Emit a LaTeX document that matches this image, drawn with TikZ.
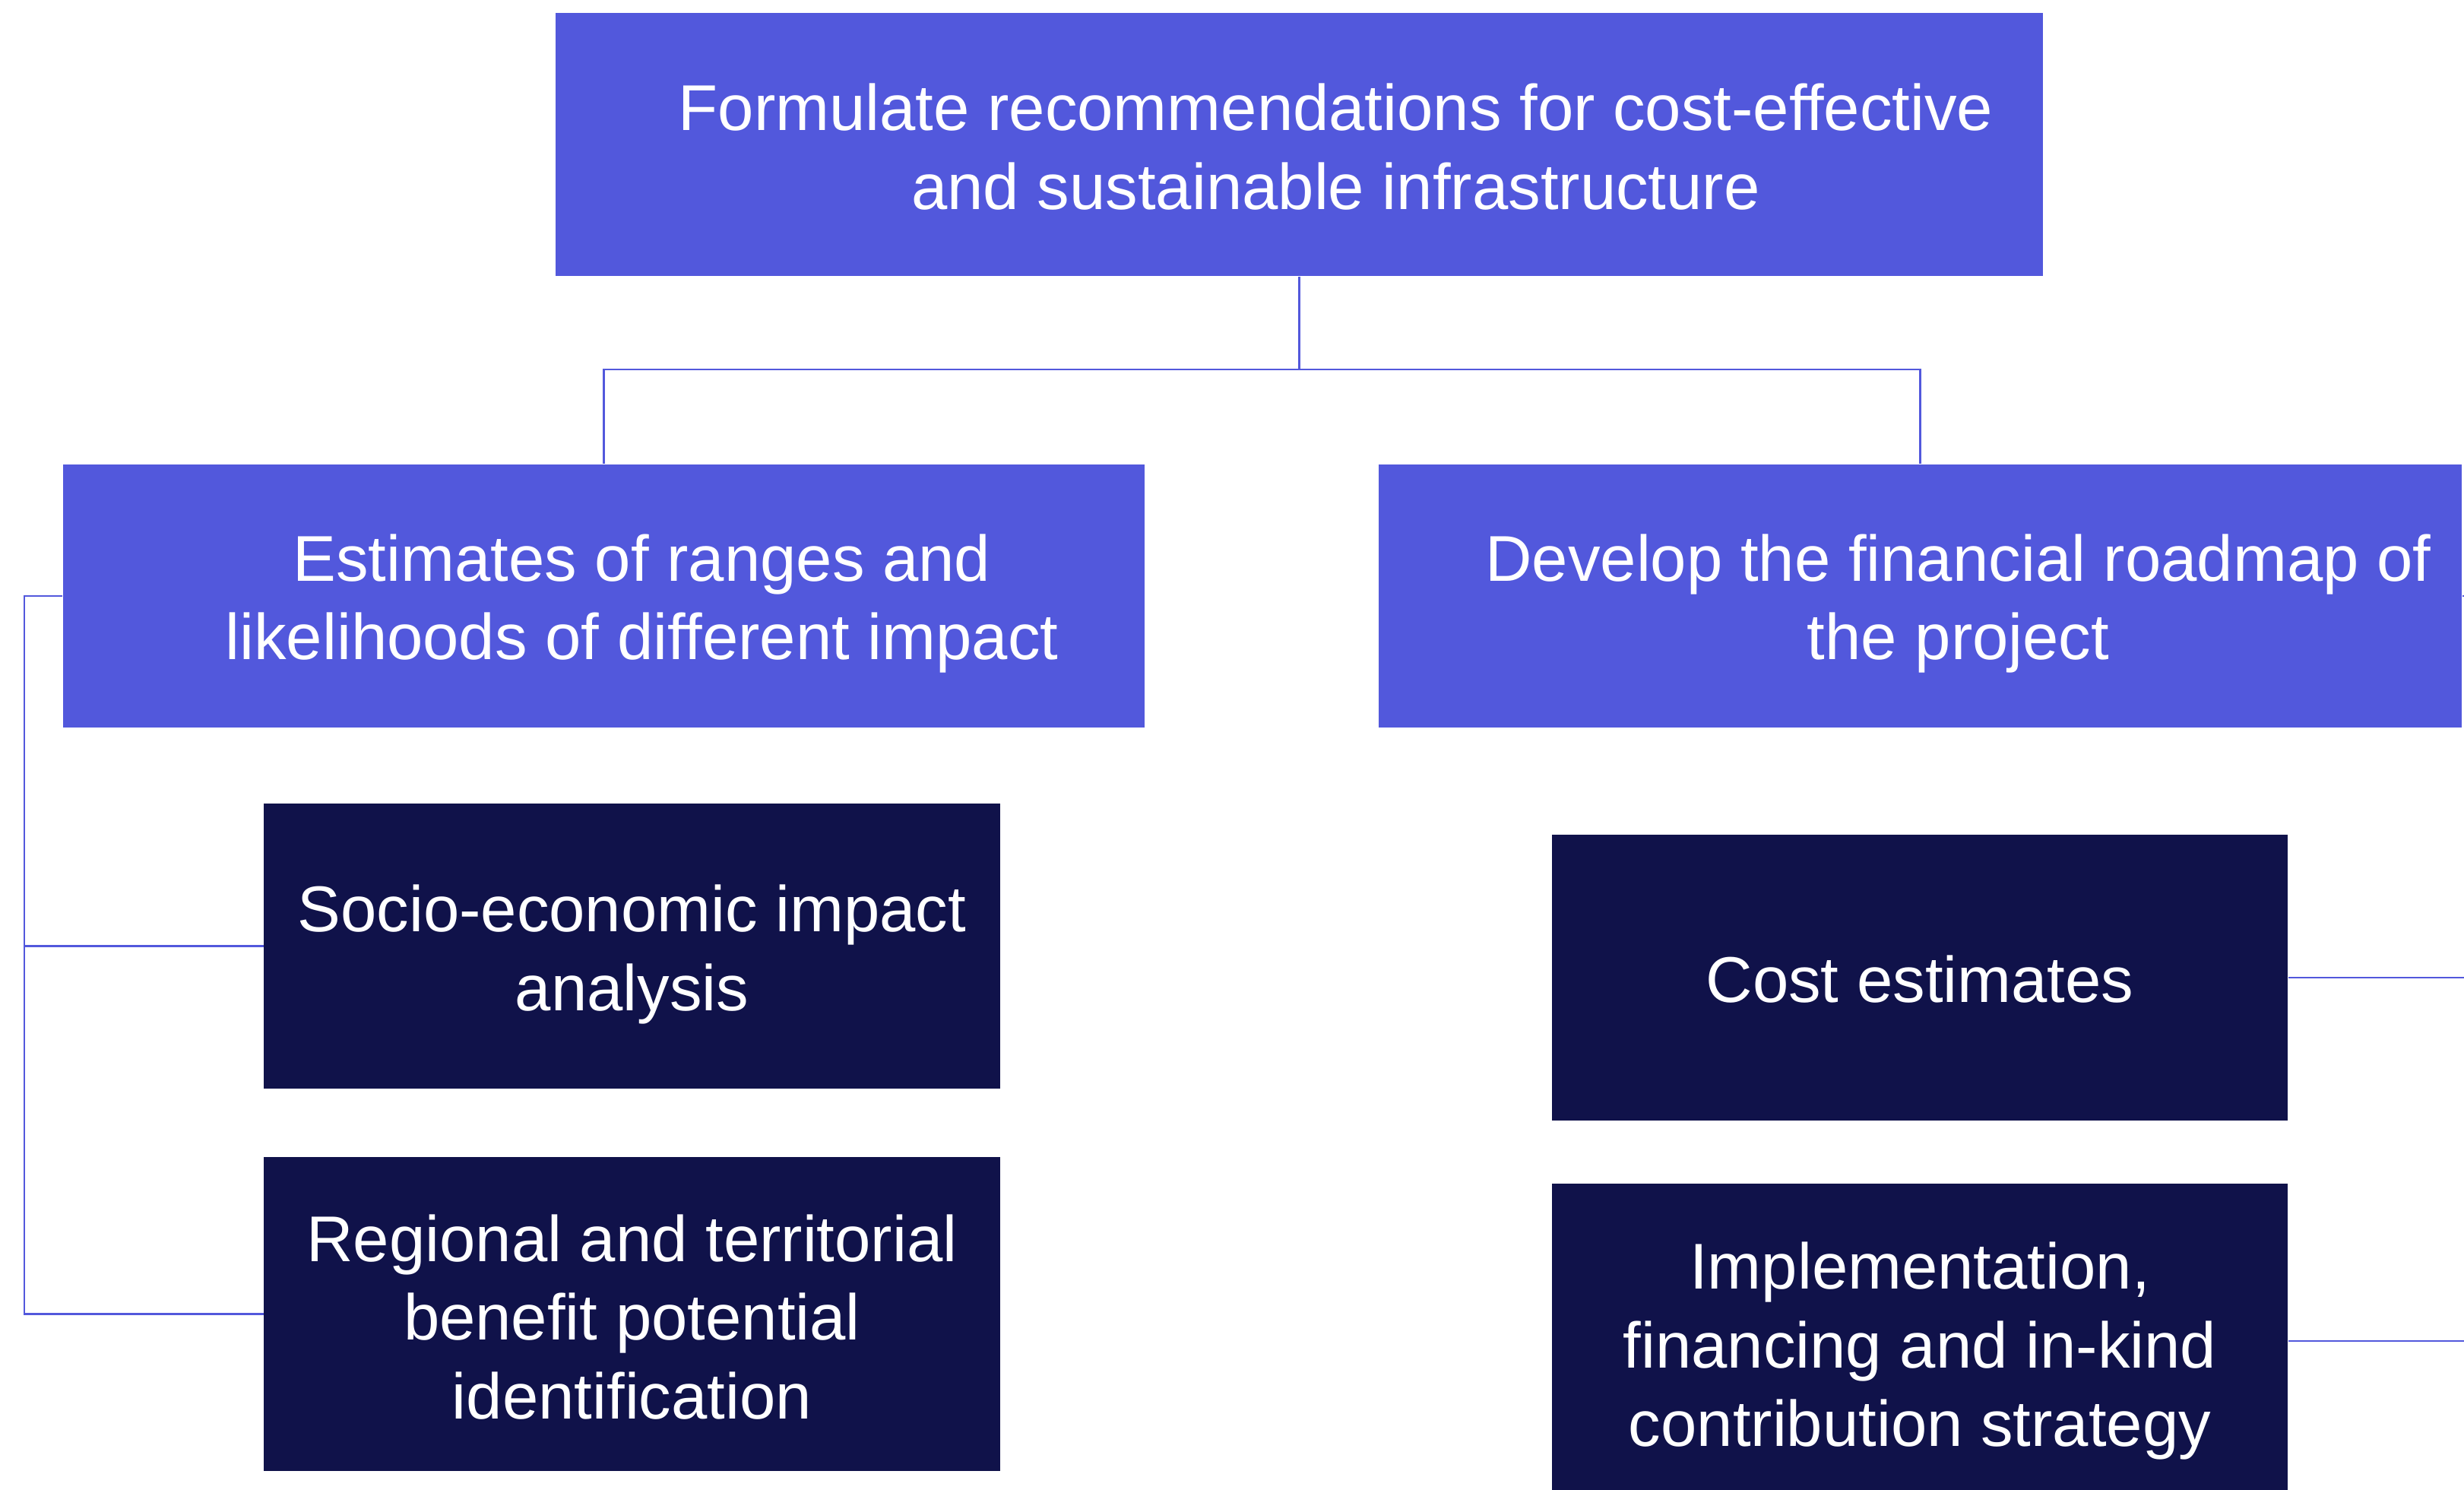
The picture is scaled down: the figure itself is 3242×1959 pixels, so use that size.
\documentclass[tikz,border=0pt]{standalone}
\usepackage{fontspec}
\setmainfont{Liberation Sans}
\definecolor{boxblue}{RGB}{82,88,220}
\definecolor{navy}{RGB}{16,18,74}
\begin{document}
\begin{tikzpicture}[x=0.01cm,y=-0.01cm,
  bluebox/.style={fill=boxblue,draw=none,minimum height=3.46cm,inner sep=0pt},
  darkbox/.style={fill=navy,draw=none,minimum width=9.68cm,inner sep=0pt},
  txt/.style={text=white,align=center,inner sep=0pt,font=\fontsize{24.2}{29.4}\selectfont},
  conn/.style={draw=boxblue,line width=0.6pt}]
\useasboundingbox (0,0) rectangle (3242,1959);
% boxes
\node[bluebox,minimum width=19.55cm] (top) at (1709.5,190) {};
\node[bluebox,minimum width=14.23cm] (lmid) at (794.5,784) {};
\node[bluebox,minimum width=14.25cm] (rmid) at (2526.5,784) {};
\node[darkbox,minimum height=3.75cm] (socio) at (831.5,1244.5) {};
\node[darkbox,minimum height=4.13cm] (regional) at (831.5,1728.5) {};
\node[darkbox,minimum height=3.76cm] (cost) at (2526,1286) {};
\node[darkbox,minimum height=4.24cm] (impl) at (2526,1769) {};
% texts
\node[txt] (toptxt) at ([xshift=0.48cm,yshift=-0.03cm]top.center) {Formulate recommendations for cost-effective\\and sustainable infrastructure};
\node[txt] (lmidtxt) at ([xshift=0.50cm,yshift=-0.10cm]lmid.center) {Estimates of ranges and\\likelihoods of different impact};
\node[txt] (rmidtxt) at ([xshift=0.50cm,yshift=-0.10cm]rmid.center) {Develop the financial roadmap of\\the project};
\node[txt] (sociotxt) at ([yshift=-0.11cm]socio.center) {Socio-economic impact\\analysis};
\node[txt] (regionaltxt) at ([yshift=-0.04cm]regional.center) {Regional and territorial\\benefit potential\\identification};
\node[txt] (costtxt) at ([yshift=-0.02cm]cost.center) {Cost estimates};
\node[txt] (impltxt) at ([yshift=-0.08cm]impl.center) {Implementation,\\financing and in-kind\\contribution strategy};
% connectors
\coordinate (tjoin) at (1709.5,486);
\draw[conn] (top.south) -- (tjoin);
\draw[conn] (tjoin) -| (lmid.north);
\draw[conn] (tjoin) -| (rmid.north);
\coordinate (lbar) at (32,784);
\draw[conn] (lmid.west) -- (lbar) |- (regional.west);
\draw[conn] (lbar) |- (socio.west);
\coordinate (rbar) at (3252,784);
\coordinate (implport) at ([yshift=0.05cm]impl.east);
\draw[conn] (rmid.east) -- (rbar) |- (implport);
\draw[conn] (rbar) |- (cost.east);
\end{tikzpicture}
\end{document}
